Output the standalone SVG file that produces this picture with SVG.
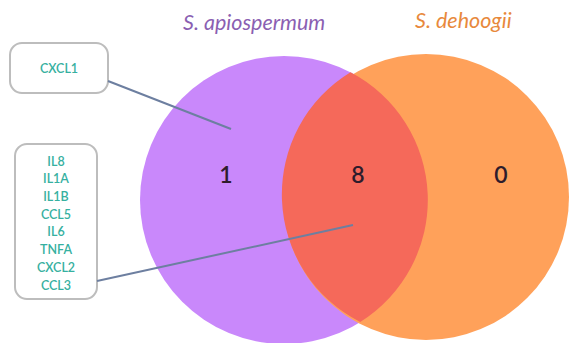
<svg xmlns="http://www.w3.org/2000/svg" width="571" height="343" viewBox="0 0 571 343">
<style>
.title{font-family:Lato,"Open Sans",sans-serif;font-style:italic;font-size:21.5px}
.num{font-family:Lato,"Open Sans",sans-serif;font-size:23px;fill:#2e1c2c;text-anchor:middle;font-weight:600}
.box{fill:#fff;stroke:#bdbdbd;stroke-width:2}
.gene{font-family:Lato,"Open Sans",sans-serif;font-size:12.5px;fill:#36b0a0;text-anchor:middle;font-weight:600}
.conn{stroke:#6d7fa0;stroke-width:2;fill:none}
</style>
<rect width="571" height="343" fill="#fff"/>
<g id="set-apiospermum">
<circle cx="284" cy="200" r="144" fill="#c988fb"/>
<text class="title" x="183" y="30" fill="#8b5fb2">S. apiospermum</text>
</g>
<g id="set-dehoogii">
<circle cx="426" cy="197" r="143" fill="#ffa15a"/>
<text class="title" x="415" y="28" fill="#e8893c">S. dehoogii</text>
</g>
<g id="intersection">
<path d="M350.5,72.3 A144,144 0 0 1 360.2,322 A143,143 0 0 1 350.5,72.3 Z" fill="#f5695a"/>
</g>
<g id="counts">
<text class="num" x="226" y="183">1</text>
<text class="num" x="358" y="183">8</text>
<text class="num" x="501" y="183">0</text>
</g>
<g id="box-cxcl1">
<rect class="box" x="10" y="43" width="98" height="50" rx="12"/>
<text class="gene" x="59" y="73">CXCL1</text>
</g>
<g id="box-shared">
<rect class="box" x="15" y="144" width="82" height="155" rx="12"/>
<text class="gene" x="56" y="165.5">IL8</text>
<text class="gene" x="56" y="183.3">IL1A</text>
<text class="gene" x="56" y="201">IL1B</text>
<text class="gene" x="56" y="218.7">CCL5</text>
<text class="gene" x="56" y="236.4">IL6</text>
<text class="gene" x="56" y="254.1">TNFA</text>
<text class="gene" x="56" y="271.8">CXCL2</text>
<text class="gene" x="56" y="289.5">CCL3</text>
</g>
<g id="connectors">
<line class="conn" x1="108" y1="81" x2="231" y2="129"/>
<line class="conn" x1="97" y1="281" x2="353" y2="225"/>
</g>
</svg>
